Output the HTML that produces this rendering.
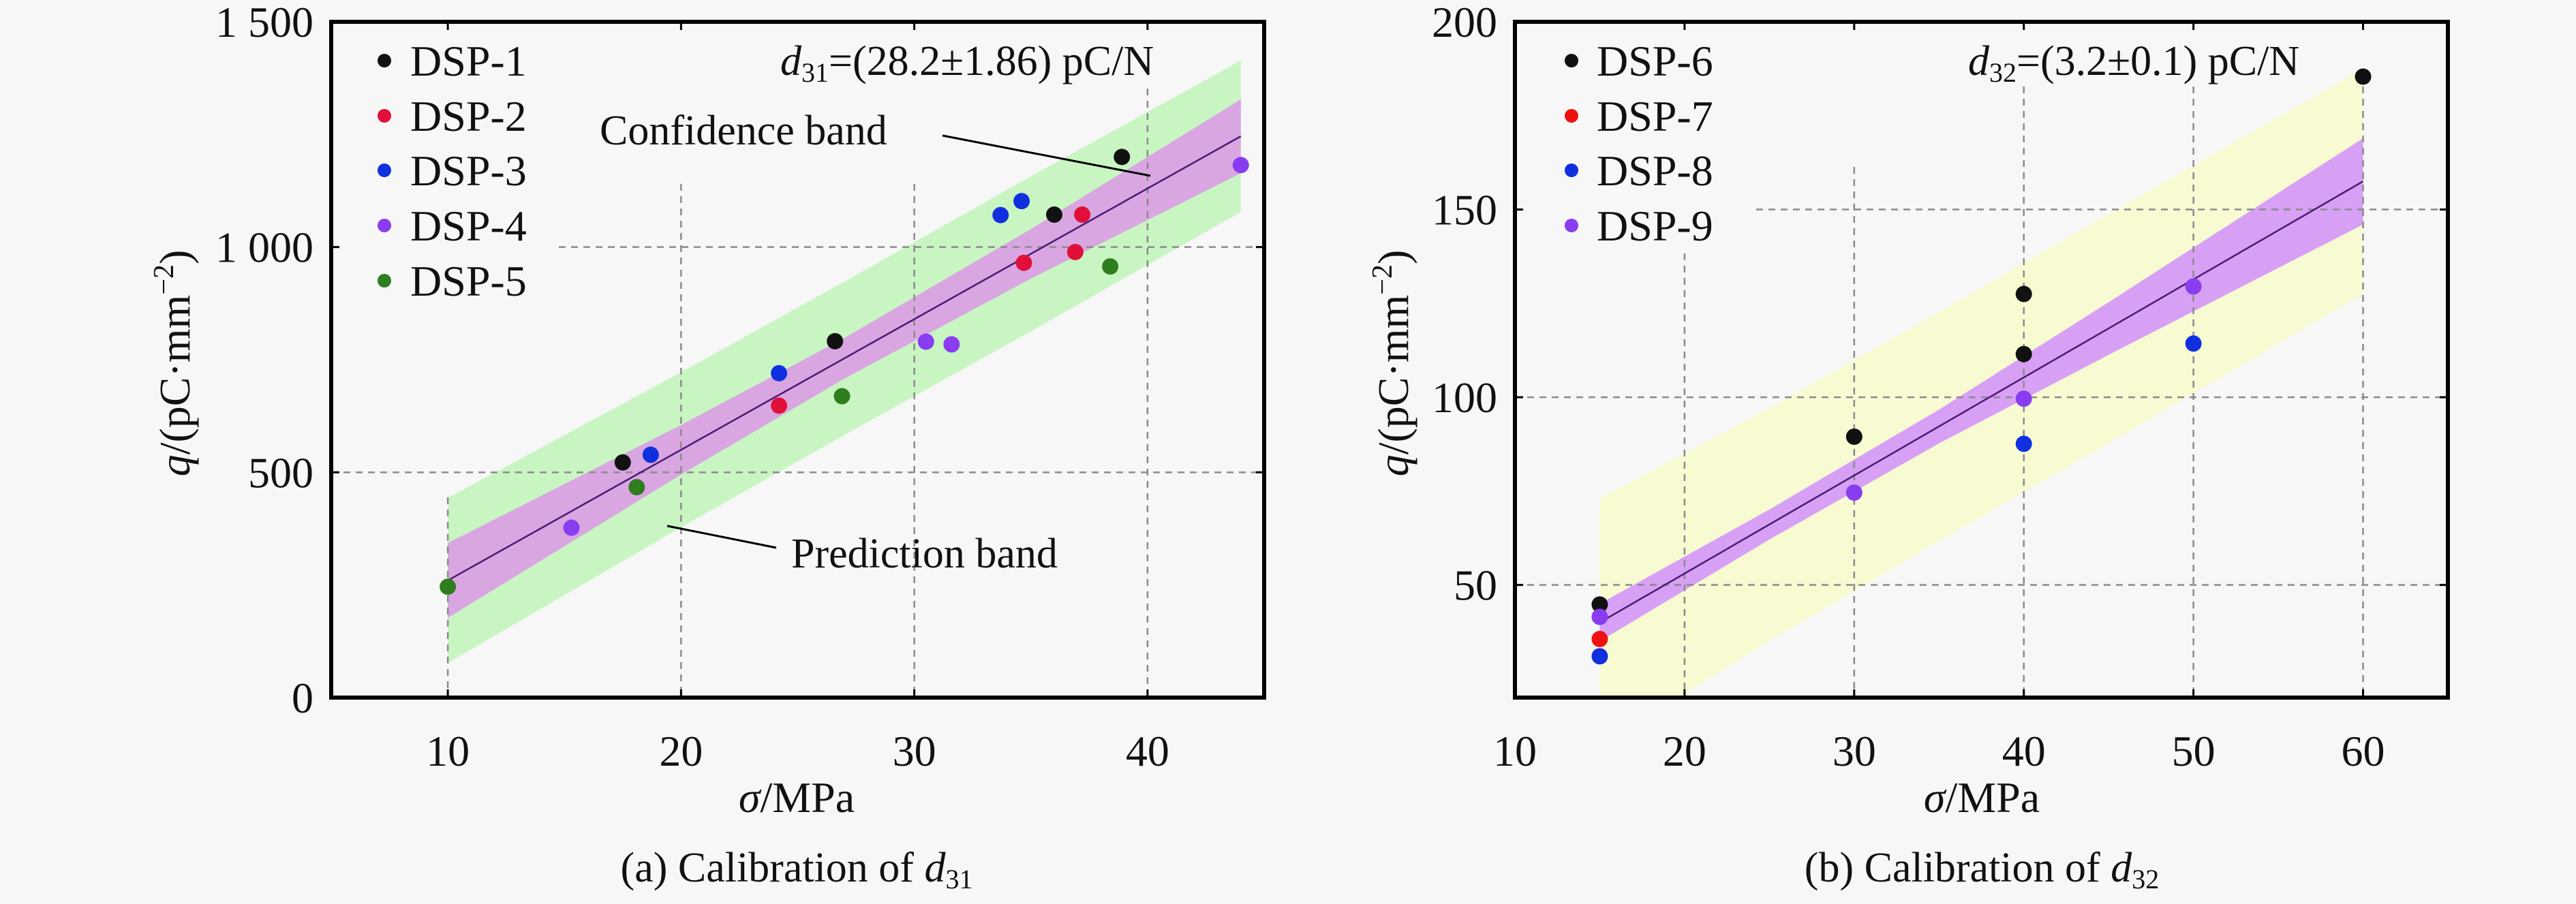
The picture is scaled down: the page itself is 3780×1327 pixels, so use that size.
<!DOCTYPE html>
<html><head><meta charset="utf-8"><style>
html,body{margin:0;padding:0;background:#f7f7f7}
svg{display:block}
svg text, svg tspan{font-family:"Liberation Serif",serif !important;fill:#111}
</style></head><body>
<div style="position:relative;width:3780px;height:1327px">
<svg id="fig" width="3780" height="1327" viewBox="0 0 3780 1327" xmlns="http://www.w3.org/2000/svg" style="position:absolute;left:0;top:0" font-family="Liberation Serif, serif">
<defs>
<clipPath id="clipA"><rect x="486" y="32" width="1369" height="992"/></clipPath>
<clipPath id="clipB"><rect x="2223" y="32" width="1369" height="992"/></clipPath>
</defs>
<rect x="0" y="0" width="3780" height="1327" fill="#f7f7f7"/>
<g id="chartA"></g>
<g id="chartB"></g>
</svg>
<svg width="3780" height="1327" viewBox="0 0 3780 1327" xmlns="http://www.w3.org/2000/svg" style="position:absolute;left:0;top:0" font-family="Liberation Serif, serif">
  <g font-size="64">
    <circle cx="564" cy="89" r="10" fill="#111111"/>
    <text x="602" y="111">DSP-1</text>
    <circle cx="564" cy="170" r="10" fill="#e0103a"/>
    <text x="602" y="192">DSP-2</text>
    <circle cx="564" cy="250" r="10" fill="#1030e0"/>
    <text x="602" y="272">DSP-3</text>
    <circle cx="564" cy="331" r="10" fill="#8a3cf0"/>
    <text x="602" y="353">DSP-4</text>
    <circle cx="564" cy="412" r="10" fill="#2e7d1e"/>
    <text x="602" y="434">DSP-5</text>
  </g>
  <g font-size="64">
    <circle cx="2306" cy="89" r="10" fill="#111111"/>
    <text x="2343" y="111">DSP-6</text>
    <circle cx="2306" cy="170" r="10" fill="#ee1111"/>
    <text x="2343" y="192">DSP-7</text>
    <circle cx="2306" cy="250" r="10" fill="#1030e0"/>
    <text x="2343" y="272">DSP-8</text>
    <circle cx="2306" cy="331" r="10" fill="#8a3cf0"/>
    <text x="2343" y="353">DSP-9</text>
  </g>
  <text x="1145" y="110" font-size="62"><tspan font-style="italic">d</tspan><tspan font-size="40" dy="10">31</tspan><tspan dy="-10">=(28.2±1.86) pC/N</tspan></text>
  <text x="880" y="212" font-size="62">Confidence band</text>
  <line x1="1383" y1="199" x2="1688" y2="258" stroke="#000" stroke-width="3"/>
  <text x="1161" y="833" font-size="62">Prediction band</text>
  <line x1="979" y1="772" x2="1139" y2="804" stroke="#000" stroke-width="3"/>
  <text x="2888" y="110" font-size="62"><tspan font-style="italic">d</tspan><tspan font-size="40" dy="10">32</tspan><tspan dy="-10">=(3.2±0.1) pC/N</tspan></text>
  <text x="1169" y="1192" font-size="64" text-anchor="middle"><tspan font-style="italic">σ</tspan>/MPa</text>
  <text x="2908" y="1192" font-size="64" text-anchor="middle"><tspan font-style="italic">σ</tspan>/MPa</text>
  <text transform="translate(278,533) rotate(-90)" font-size="64" text-anchor="middle"><tspan font-style="italic">q</tspan>/(pC·mm<tspan font-size="42" dy="-24">−2</tspan><tspan dy="24">)</tspan></text>
  <text transform="translate(2066,533) rotate(-90)" font-size="64" text-anchor="middle"><tspan font-style="italic">q</tspan>/(pC·mm<tspan font-size="42" dy="-24">−2</tspan><tspan dy="24">)</tspan></text>
  <text x="1169" y="1294" font-size="62" text-anchor="middle">(a) Calibration of <tspan font-style="italic">d</tspan><tspan font-size="40" dy="10">31</tspan></text>
  <text x="2908" y="1294" font-size="62" text-anchor="middle">(b) Calibration of <tspan font-style="italic">d</tspan><tspan font-size="40" dy="10">32</tspan></text>
</svg>
</div>
<script>
// ---- Chart A data (d31) ----
const seriesNamesA = ["DSP-1","DSP-2","DSP-3","DSP-4","DSP-5"];
const seriesColorsA = ["#111111","#e0103a","#1030e0","#8a3cf0","#2e7d1e"];
const xA1 = [17.5, 26.6, 36.0, 38.9];
const yA1 = [522, 791, 1072, 1200];
const xA2 = [24.2, 34.7, 36.9, 37.2];
const yA2 = [648, 965, 989, 1072];
const xA3 = [18.7, 24.2, 33.7, 34.6];
const yA3 = [539, 720, 1071, 1102];
const xA4 = [15.3, 30.5, 31.6, 44.0];
const yA4 = [377, 790, 784, 1182];
const xA5 = [10.0, 18.1, 26.9, 38.4];
const yA5 = [246, 467, 669, 957];
const bandXA = [10, 20, 27, 35, 44];
const fitA = [260, 550, 753, 985, 1246];
const confHalfA = [83, 55, 45, 55, 82];
const predHalfA = [183, 172, 170, 172, 168];
const xTicksA = [10, 20, 30, 40];
const yTicksA = [0, 500, 1000, 1500];
const yTickLabelsA = ["0","500","1 000","1 500"];

// ---- Chart B data (d32) ----
const seriesNamesB = ["DSP-6","DSP-7","DSP-8","DSP-9"];
const seriesColorsB = ["#111111","#ee1111","#1030e0","#8a3cf0"];
const xB6 = [15, 30, 40, 40, 60];
const yB6 = [44.8, 89.5, 127.5, 111.5, 185.4];
const xB7 = [15];
const yB7 = [35.6];
const xB8 = [15, 40, 50];
const yB8 = [31, 87.6, 114.3];
const xB9 = [15, 30, 40, 50];
const yB9 = [41.5, 74.6, 99.6, 129.5];
const bandXB = [15, 25, 35, 45, 60];
const fitB = [40, 66.1, 92.2, 118.3, 157.5];
const confHalfB = [5, 4, 4.5, 7, 11.5];
const predHalfB = [33, 31, 30.5, 30.5, 30];
const xTicksB = [10, 20, 30, 40, 50, 60];
const yTicksB = [50, 100, 150, 200];
const yTickLabelsB = ["50","100","150","200"];

const NS = "http://www.w3.org/2000/svg";
function mk(parent, tag, attrs, txt){
  const e = document.createElementNS(NS, tag);
  for (const k in attrs) e.setAttribute(k, attrs[k]);
  if (tag === "text") {
    e.setAttribute("font-family", "Liberation Serif, serif");
    e.style.fontFamily = '"Liberation Serif", serif';
  }
  if (txt !== undefined) e.textContent = txt;
  parent.appendChild(e); return e;
}

function drawChart(g, cfg){
  const {L,R,T,B,xmin,xmax,ymin,ymax} = cfg;
  const sx = v => L + (v - xmin) / (xmax - xmin) * (R - L);
  const sy = v => B - (v - ymin) / (ymax - ymin) * (B - T);
  const cg = mk(g,"g",{"clip-path":"url(#"+cfg.clip+")"});
  
  
  let pts = cfg.bandX.map((x,i)=>sx(x)+","+sy(cfg.fit[i]+cfg.predHalf[i]));
  pts = pts.concat(cfg.bandX.map((x,i)=>sx(x)+","+sy(cfg.fit[i]-cfg.predHalf[i])).reverse());
  const pb = mk(cg,"polygon",{points:pts.join(" "),fill:cfg.predColor});
  
  
  let cp = cfg.bandX.map((x,i)=>sx(x)+","+sy(cfg.fit[i]+cfg.confHalf[i]));
  cp = cp.concat(cfg.bandX.map((x,i)=>sx(x)+","+sy(cfg.fit[i]-cfg.confHalf[i])).reverse());
  const cb = mk(cg,"polygon",{points:cp.join(" "),fill:cfg.confColor});
  
  
  cfg.xTicks.forEach((t,i)=>{
    if (t<=xmin) return;
    const gl = mk(cg,"line",{x1:sx(t),x2:sx(t),y1:cfg.vGridTop[i],y2:B,stroke:"#8a8a8a","stroke-width":2.5,"stroke-dasharray":"10 8"});
    
    
  });
  cfg.yTicks.forEach((t,i)=>{
    if (t<=ymin || t>=ymax) return;
    const gl = mk(cg,"line",{x1:cfg.hGridLeft[i],x2:R,y1:sy(t),y2:sy(t),stroke:"#8a8a8a","stroke-width":2.5,"stroke-dasharray":"10 8"});
    
    
  });
  const fl = mk(cg,"line",{x1:sx(cfg.bandX[0]),y1:sy(cfg.fit[0]),x2:sx(cfg.bandX[cfg.bandX.length-1]),y2:sy(cfg.fit[cfg.fit.length-1]),stroke:"#4a1a72","stroke-width":2.5});
  
  
  cfg.series.forEach((s,si)=>{
    s.x.forEach((x,i)=>{
      const c = mk(g,"circle",{cx:sx(x),cy:sy(s.y[i]),r:12,fill:cfg.colors[si]});
      
      
    });
  });
  const fr = mk(g,"rect",{x:L,y:T,width:R-L,height:B-T,fill:"none",stroke:"#000","stroke-width":6});
  
  
  cfg.xTicks.forEach(t=>{
    mk(g,"line",{x1:sx(t),x2:sx(t),y1:B,y2:B-12,stroke:"#000","stroke-width":3});
    mk(g,"line",{x1:sx(t),x2:sx(t),y1:T,y2:T+12,stroke:"#000","stroke-width":3});
    const tl = mk(g,"text",{x:sx(t),y:B+100,"font-size":64,"text-anchor":"middle"},String(t));
    
    
  });
  cfg.yTicks.forEach((t,i)=>{
    mk(g,"line",{x1:L,x2:L+12,y1:sy(t),y2:sy(t),stroke:"#000","stroke-width":3});
    mk(g,"line",{x1:R,x2:R-12,y1:sy(t),y2:sy(t),stroke:"#000","stroke-width":3});
    const tl = mk(g,"text",{x:cfg.yLabelX,y:sy(t)+22,"font-size":64,"text-anchor":"end"},cfg.yTickLabels[i]);
    
    
  });
}

drawChart(document.getElementById('chartA'),{L:486,R:1855,T:32,B:1024,xmin:5,xmax:45,ymin:0,ymax:1500,clip:"clipA",
  bandX:bandXA,fit:fitA,confHalf:confHalfA,predHalf:predHalfA,
  predColor:"#c8f5c2",confColor:"#d9a6e2",
  xTicks:xTicksA,yTicks:yTicksA,yTickLabels:yTickLabelsA,
  vGridTop:[730,270,270,130],hGridLeft:[486,486,820,486],
  series:[{x:xA1,y:yA1},{x:xA2,y:yA2},{x:xA3,y:yA3},{x:xA4,y:yA4},{x:xA5,y:yA5}],
  colors:seriesColorsA,names:seriesNamesA,yLabelX:460});

drawChart(document.getElementById('chartB'),{L:2223,R:3592,T:32,B:1024,xmin:10,xmax:65,ymin:20,ymax:200,clip:"clipB",
  bandX:bandXB,fit:fitB,confHalf:confHalfB,predHalf:predHalfB,
  predColor:"#f8fbd2",confColor:"#d7a0f5",
  xTicks:xTicksB,yTicks:yTicksB,yTickLabels:yTickLabelsB,
  vGridTop:[0,372,245,127,127,127],hGridLeft:[2223,2223,2577,2223],
  series:[{x:xB6,y:yB6},{x:xB7,y:yB7},{x:xB8,y:yB8},{x:xB9,y:yB9}],
  colors:seriesColorsB,names:seriesNamesB,yLabelX:2197});
</script>
</body></html>
